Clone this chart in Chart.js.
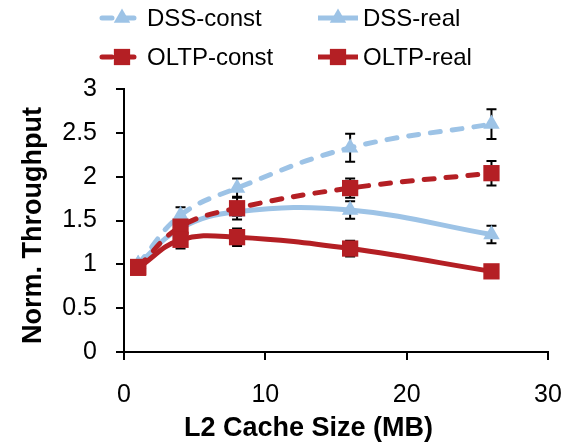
<!DOCTYPE html>
<html>
<head>
<meta charset="utf-8">
<script src="https://cdn.jsdelivr.net/npm/chart.js@4.4.1/dist/chart.umd.min.js"></script>
<style>
  html, body { margin: 0; padding: 0; background: #fff; }
  #wrap { width: 565px; height: 447px; }
</style>
</head>
<body>
<div id="wrap"><canvas id="chart"></canvas></div>
<script>
// L2 cache size (MB) on the x axis
const cacheSizes = [1, 4, 8, 16, 26];

// normalized throughput per workload
const dssConst = [1.00, 1.56, 1.87, 2.33, 2.60];
const dssReal = [1.00, 1.41, 1.60, 1.62, 1.34];
const oltpConst = [0.97, 1.43, 1.64, 1.87, 2.04];
const oltpReal = [0.96, 1.28, 1.31, 1.18, 0.92];

// +/- error for each point
const dssConstErr = [0.02, 0.09, 0.11, 0.16, 0.17];
const dssRealErr = [0.02, 0.05, 0.05, 0.10, 0.10];
const oltpConstErr = [0.02, 0.08, 0.13, 0.11, 0.14];
const oltpRealErr = [0.02, 0.10, 0.10, 0.09, 0.03];

const xTicks = [0, 10, 20, 30];
const yTicks = [0, 0.5, 1, 1.5, 2, 2.5, 3];

const BLUE = '#9DC3E6';
const RED = '#B41F24';
const FONT = '"Liberation Sans", Arial, sans-serif';

const toPoints = vals => vals.map((v, i) => ({ x: cacheSizes[i], y: v }));

function series(label, vals, errs, color, dashed, marker, order) {
  return {
    label: label,
    data: toPoints(vals),
    errors: errs,
    borderColor: color,
    backgroundColor: color,
    borderWidth: 5,
    borderDash: dashed ? [10, 12] : [],
    borderCapStyle: dashed ? 'round' : 'butt',
    tension: 0.4,
    pointStyle: marker,
    pointRadius: marker === 'rect' ? 11.5 : 9.5,
    pointBorderWidth: 0,
    pointBackgroundColor: color,
    order: order
  };
}

// error bars, drawn under the lines and markers
const errorBars = {
  id: 'errorBars',
  beforeDatasetsDraw(chart) {
    const ctx = chart.ctx;
    const xs = chart.scales.x, ys = chart.scales.y;
    ctx.save();
    ctx.strokeStyle = '#000';
    ctx.lineWidth = 2;
    chart.data.datasets.forEach(ds => {
      ds.data.forEach((p, i) => {
        const e = ds.errors[i];
        const px = xs.getPixelForValue(p.x);
        const top = ys.getPixelForValue(p.y + e);
        const bot = ys.getPixelForValue(p.y - e);
        ctx.beginPath();
        ctx.moveTo(px, top); ctx.lineTo(px, bot);
        ctx.moveTo(px - 5, top); ctx.lineTo(px + 5, top);
        ctx.moveTo(px - 5, bot); ctx.lineTo(px + 5, bot);
        ctx.stroke();
      });
    });
    ctx.restore();
  }
};

// two-column legend above the plot
const gridLegend = {
  id: 'gridLegend',
  afterDraw(chart) {
    const ctx = chart.ctx;
    const cols = [100, 316], rows = [18, 57];
    ctx.save();
    chart.data.datasets.forEach((ds, i) => {
      const x0 = cols[i % 2], y0 = rows[Math.floor(i / 2)];
      ctx.strokeStyle = ds.borderColor;
      ctx.lineWidth = ds.borderWidth;
      ctx.lineCap = ds.borderCapStyle;
      ctx.setLineDash(ds.borderDash);
      ctx.beginPath();
      ctx.moveTo(x0 + 2, y0); ctx.lineTo(x0 + 42, y0);
      ctx.stroke();
      ctx.setLineDash([]);
      ctx.fillStyle = ds.backgroundColor;
      Chart.helpers.drawPoint(ctx, {
        pointStyle: ds.pointStyle, radius: ds.pointRadius, rotation: 0, borderWidth: 0
      }, x0 + 22, y0);
      ctx.fillStyle = '#000';
      ctx.font = '24px ' + FONT;
      ctx.textBaseline = 'middle';
      ctx.textAlign = 'left';
      ctx.fillText(ds.label, x0 + 47, y0 + 1);
    });
    ctx.restore();
  }
};

// axis titles
const axisTitles = {
  id: 'axisTitles',
  afterDraw(chart) {
    const ctx = chart.ctx;
    const a = chart.chartArea;
    ctx.save();
    ctx.fillStyle = '#000';
    ctx.font = 'bold 27px ' + FONT;
    ctx.textAlign = 'center';
    ctx.textBaseline = 'middle';
    ctx.fillText('L2 Cache Size (MB)', a.left + (a.right - a.left) * 0.435, 429);
    ctx.translate(34, (a.top + a.bottom) / 2 + 5);
    ctx.rotate(-Math.PI / 2);
    ctx.fillText('Norm. Throughput', 0, 0);
    ctx.restore();
  }
};

const axisLine = {
  display: true,
  drawOnChartArea: false,
  drawTicks: true,
  tickLength: 8,
  color: '#000',
  lineWidth: 2
};

new Chart(document.getElementById('chart'), {
  type: 'line',
  data: {
    datasets: [
      series('DSS-const', dssConst, dssConstErr, BLUE, true, 'triangle', 3),
      series('DSS-real', dssReal, dssRealErr, BLUE, false, 'triangle', 2),
      series('OLTP-const', oltpConst, oltpConstErr, RED, true, 'rect', 1),
      series('OLTP-real', oltpReal, oltpRealErr, RED, false, 'rect', 0)
    ]
  },
  options: {
    responsive: true,
    maintainAspectRatio: false,
    animation: false,
    layout: { padding: { top: 89, right: 0, bottom: 0, left: 0 } },
    plugins: {
      legend: { display: false },
      tooltip: { enabled: false }
    },
    scales: {
      x: {
        type: 'linear',
        min: 0,
        max: 30,
        afterBuildTicks: s => { s.ticks = xTicks.map(v => ({ value: v })); },
        grid: axisLine,
        border: { color: '#000', width: 2 },
        ticks: { color: '#000', font: { size: 25, family: FONT }, padding: 20, callback: v => String(v) },
        afterFit: s => { s.height = 95; s.paddingLeft = 0; s.paddingRight = 17; }
      },
      y: {
        min: 0,
        max: 3,
        afterBuildTicks: s => { s.ticks = yTicks.map(v => ({ value: v })); },
        grid: axisLine,
        border: { color: '#000', width: 2 },
        ticks: { color: '#000', font: { size: 25, family: FONT }, padding: 19, callback: v => String(v) },
        afterFit: s => { s.width = 124; }
      }
    }
  },
  plugins: [errorBars, gridLegend, axisTitles]
});
</script>
</body>
</html>
